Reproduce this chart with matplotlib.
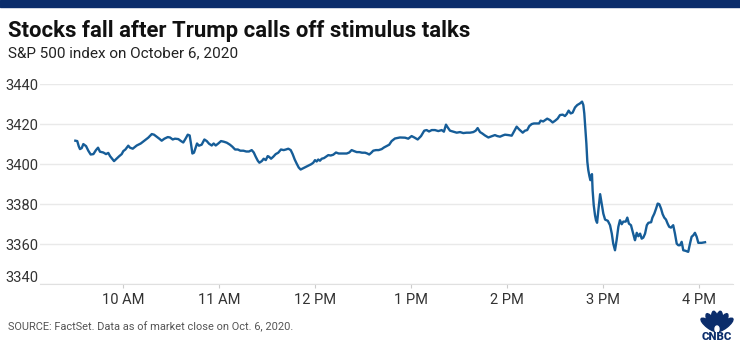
import numpy as np
import matplotlib
matplotlib.use("Agg")
from matplotlib import pyplot as plt
from matplotlib import transforms
from matplotlib.patches import Ellipse, Rectangle

# S&P 500 intraday, Oct 6 2020 -- minutes after 9:30 open, index level
minutes = [0, 1.2, 2.1, 2.9, 4.0, 5.0, 6.7, 8.1, 9.6, 11.3, 12.9, 14.2, 15.4, 17.5, 19.2,
           20.6, 21.7, 22.9, 24.2, 25.9, 27.5, 29.0, 30.0, 31.3, 33.1, 34.2, 35.9, 38.4,
           40.9, 43.6, 45.6, 47.8, 49.2, 50.9, 52.5, 54.0, 55.7, 57.8, 59.2, 60.9, 62.3,
           64.4, 66.1, 67.5, 69.0, 70.3, 71.5, 72.3, 73.2, 74.2, 75.3, 76.1, 77.3, 79.0,
           80.7, 82.2, 83.6, 85.3, 86.5, 87.8, 89.4, 91.1, 92.8, 94.7, 96.7, 98.2, 99.9,
           101.6, 103.2, 105.1, 106.9, 108.6, 110.3, 111.6, 112.8, 114.1, 115.1, 116.6,
           117.8, 119.1, 120.3, 121.1, 122.4, 123.8, 125.3, 126.9, 128.6, 130.3, 131.7,
           133.2, 134.7, 135.9, 137.2, 138.4, 139.7, 140.9, 142.6, 144.3, 145.9, 147.6,
           148.8, 149.9, 150.9, 151.9, 153.0, 154.1, 155.5, 156.8, 158.2, 159.7, 161.3,
           163.0, 164.7, 166.3, 168.0, 169.7, 171.3, 172.8, 174.3, 176.0, 177.6, 179.3,
           181.2, 182.6, 183.8, 185.1, 186.3, 188.0, 189.7, 191.6, 193.0, 194.7, 196.3,
           197.8, 199.9, 203.0, 206.2, 208.2, 210.3, 212.0, 214.1, 216.2, 218.2, 219.7,
           221.2, 222.9, 224.9, 227.0, 229.1, 230.5, 231.8, 232.9, 234.3, 236.4, 238.5,
           240.6, 242.6, 244.7, 246.8, 248.9, 250.4, 251.6, 253.1, 254.5, 256.2, 258.3,
           260.0, 261.6, 262.4, 263.9, 265.6, 267.3, 268.7, 270.8, 272.9, 274.3, 276.0,
           277.6, 279.8, 281.2, 282.6, 283.9, 285.4, 286.8, 288.5, 290.0, 291.0, 292.6,
           293.9, 295.1, 296.8, 298.5, 300.1, 301.6, 303.1, 304.8, 306.2, 307.3, 308.5,
           309.8, 311.0, 312.5, 313.9, 315.6, 316.9, 317.7, 318.3, 318.9, 319.6, 320.2,
           320.8, 321.5, 322.1, 322.7, 323.1, 323.5, 324.2, 325.0, 325.6, 326.3, 327.1,
           328.2, 329.2, 330.2, 331.3, 333.0, 334.4, 335.5, 336.4, 337.5, 338.5, 339.6,
           340.6, 341.7, 342.7, 344.2, 345.2, 346.2, 347.5, 348.3, 349.4, 350.0, 351.1,
           352.1, 353.2, 354.2, 355.2, 356.3, 357.4, 358.4, 360.1, 360.9, 362.1, 363.2,
           364.2, 365.2, 366.3, 367.3, 368.3, 369.4, 370.4, 371.4, 372.5, 373.9, 375.0,
           376.1, 377.1, 378.1, 379.2, 380.2, 381.7, 383.3, 384.4, 385.4, 386.5, 387.5,
           388.6, 389.6, 391.7, 393.8]
level = [3411.7, 3411.5, 3409.0, 3407.5, 3408.0, 3410.0, 3409.0, 3406.7, 3404.8, 3405.0,
         3407.0, 3408.2, 3406.2, 3405.8, 3405.0, 3405.6, 3404.0, 3402.8, 3401.5, 3402.8,
         3404.0, 3405.0, 3406.5, 3407.3, 3409.2, 3408.2, 3407.7, 3409.3, 3410.3, 3412.0,
         3413.2, 3415.0, 3414.7, 3413.7, 3412.7, 3411.7, 3412.7, 3413.5, 3413.3, 3412.3,
         3412.7, 3412.5, 3411.5, 3410.8, 3412.8, 3414.7, 3414.3, 3410.3, 3405.3, 3405.7,
         3408.3, 3410.3, 3409.2, 3409.7, 3412.3, 3411.5, 3410.2, 3409.3, 3410.3, 3409.3,
         3410.3, 3411.5, 3411.2, 3410.7, 3409.7, 3408.7, 3407.3, 3407.3, 3406.7, 3406.7,
         3406.3, 3406.3, 3407.0, 3405.8, 3403.7, 3401.7, 3400.7, 3401.5, 3402.7, 3402.0,
         3404.0, 3403.7, 3402.7, 3403.7, 3405.0, 3405.7, 3407.3, 3407.0, 3407.3, 3407.7,
         3407.0, 3405.0, 3402.3, 3400.3, 3398.3, 3397.3, 3398.0, 3398.7, 3399.3, 3400.0,
         3400.7, 3402.0, 3401.3, 3402.3, 3401.7, 3402.7, 3403.0, 3403.7, 3404.5, 3404.3,
         3404.7, 3405.8, 3405.3, 3405.3, 3405.3, 3405.3, 3405.8, 3407.0, 3406.5, 3406.0,
         3406.0, 3405.7, 3405.7, 3405.3, 3404.8, 3405.7, 3406.7, 3407.0, 3407.0, 3407.5,
         3408.3, 3409.0, 3409.7, 3411.5, 3412.8, 3413.3, 3413.2, 3412.7, 3414.0, 3413.3,
         3412.3, 3414.0, 3416.7, 3417.0, 3416.3, 3417.0, 3417.0, 3416.5, 3417.0, 3416.2,
         3419.7, 3418.3, 3416.7, 3416.2, 3415.7, 3416.0, 3415.5, 3415.7, 3415.7, 3416.0,
         3416.7, 3418.0, 3416.0, 3415.3, 3414.3, 3413.3, 3413.8, 3414.3, 3414.5, 3414.0,
         3413.7, 3414.3, 3414.7, 3414.5, 3414.2, 3416.2, 3418.7, 3417.3, 3415.7, 3416.7,
         3417.0, 3419.0, 3420.0, 3420.3, 3420.3, 3420.3, 3421.7, 3421.3, 3422.0, 3422.7,
         3422.0, 3420.8, 3421.7, 3422.7, 3424.5, 3424.7, 3424.0, 3425.0, 3426.7, 3425.3,
         3425.7, 3428.3, 3429.5, 3430.3, 3431.2, 3429.5, 3425.3, 3418.7, 3410.3, 3401.2,
         3397.0, 3394.0, 3392.0, 3394.0, 3395.0, 3387.0, 3379.5, 3374.5, 3372.0, 3370.7,
         3377.0, 3385.0, 3380.3, 3375.3, 3372.3, 3371.7, 3369.5, 3365.3, 3360.3, 3357.0,
         3362.0, 3368.7, 3372.0, 3370.0, 3371.3, 3371.3, 3373.3, 3370.3, 3369.5, 3367.0,
         3363.7, 3362.0, 3365.7, 3364.0, 3365.3, 3362.8, 3363.3, 3365.3, 3369.5, 3370.7,
         3371.0, 3373.3, 3375.3, 3377.8, 3380.3, 3380.0, 3377.8, 3375.0, 3373.3, 3372.3,
         3370.3, 3368.7, 3368.3, 3369.5, 3365.3, 3360.3, 3359.5, 3359.5, 3361.2, 3357.0,
         3356.7, 3356.2, 3360.3, 3363.7, 3364.5, 3365.7, 3363.7, 3360.7, 3360.7, 3361.0]

tick_minutes = [30, 90, 150, 210, 270, 330, 390]
tick_labels = ["10 AM", "11 AM", "12 PM", "1 PM", "2 PM", "3 PM", "4 PM"]
y_ticks = [3340, 3360, 3380, 3400, 3420, 3440]

navy = "#0b2d6b"
blue = "#165d98"

plt.rcParams['font.family'] = ['Roboto', 'DejaVu Sans']

W, H = 740, 351
fig = plt.figure(figsize=(W / 100, H / 100), dpi=100)

# top band
fig.patches.append(Rectangle((0, 1 - 7 / H), 1, 7 / H, transform=fig.transFigure,
                             color=navy, zorder=0))

fig.text(8 / W, 1 - 31 / H, "Stocks fall after Trump calls off stimulus talks",
         fontsize=15.9, fontweight="bold", color="#111111", va="center", ha="left")
fig.text(8 / W, 1 - 53 / H, "S&P 500 index on October 6, 2020",
         fontsize=11, color="#222222", va="center", ha="left")
fig.text(8 / W, 1 - 327 / H, "SOURCE: FactSet. Data as of market close on Oct. 6, 2020.",
         fontsize=7.9, color="#555555", va="center", ha="left")

ax = fig.add_axes([40 / W, 1 - 284.3 / H, 693 / W, 200.3 / H])
ax.plot(minutes, level, color=blue, lw=1.7, solid_joinstyle="round")
ax.set_xlim(-22.1, 411.3)
ax.set_ylim(3340, 3440)
ax.set_yticks(y_ticks)
ax.set_xticks(tick_minutes)
ax.set_xticklabels(tick_labels)
ax.grid(axis="y", color="#e9e9e9", lw=1)
ax.set_axisbelow(True)
for s in ["top", "left", "right"]:
    ax.spines[s].set_visible(False)
ax.spines["bottom"].set_color("#e0e0e0")
ax.tick_params(axis="y", length=0, pad=1.5, labelsize=10.5, labelcolor="#333333")
ax.tick_params(axis="x", length=3, color="#cccccc", pad=3, labelsize=10.5,
               labelcolor="#333333")

# lowest label sits a bit above the baseline
lab = ax.get_yticklabels()[0]
lab.set_transform(lab.get_transform() + transforms.ScaledTranslation(0, 8 / 100, fig.dpi_scale_trans))

# CNBC peacock
lax = fig.add_axes([697 / W, 1 - 346 / H, 40 / W, 44 / H])
lax.set_xlim(0, 40)
lax.set_ylim(0, 44)
lax.axis("off")
for ang in [-52, -31, -10, 10, 31, 52]:
    r = np.radians(ang)
    cx, cy = 20 + 10 * np.sin(r), 15 + 10 * np.cos(r)
    lax.add_patch(Ellipse((cx, cy), 6.5, 20, angle=-ang, color=navy))
lax.add_patch(Ellipse((20, 17), 4, 6, color="white"))
lax.text(20, 9, "CNBC", ha="center", va="center", fontsize=8.2, fontweight="black",
         color=navy)

fig.savefig("out.png", dpi=100)
